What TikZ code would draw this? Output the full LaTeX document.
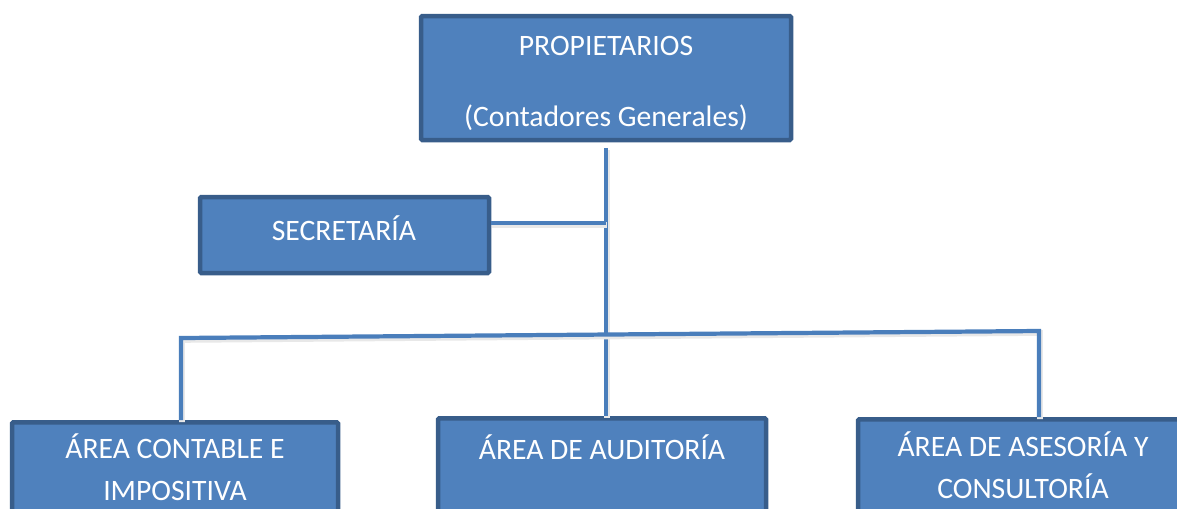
\documentclass[tikz,border=0pt]{standalone}
\usepackage{fontspec}
\setmainfont{Carlito}
\definecolor{cajafondo}{HTML}{4F81BD}
\definecolor{cajaborde}{HTML}{385D8A}
\definecolor{lineaazul}{HTML}{4A7EBB}
\tikzset{
  caja/.style={draw=cajaborde, fill=cajafondo, line width=3.2pt, rounded corners=1pt, inner sep=0pt},
  rotulo/.style={text=white, align=center, inner sep=0pt, font=\fontsize{21.1}{29.9}\selectfont},
  conector/.style={draw=lineaazul, line width=3pt,
    preaction={draw=black!9, line width=4pt, transform canvas={shift={(1,2)}}}}
}

\begin{document}
\begin{tikzpicture}[x=0.025cm,y=-0.025cm]
\useasboundingbox (0,0) rectangle (1177,508);
% cajas
\node[caja, minimum width=370*0.025cm, minimum height=124*0.025cm] (prop) at (606,78) {};
\node[caja, minimum width=289*0.025cm, minimum height=76*0.025cm] (secr) at (344.5,235) {};
\node[caja, anchor=north, minimum width=326*0.025cm, minimum height=130*0.025cm] (contable) at (175,420) {};
\node[caja, anchor=north, minimum width=328*0.025cm, minimum height=130*0.025cm] (auditoria) at (602,416) {};
\node[caja, anchor=north, minimum width=328*0.025cm, minimum height=130*0.025cm] (asesoria) at (1022,417) {};
% textos
\node[rotulo] (prop-t) at (606,83) {PROPIETARIOS\\[20.5pt](Contadores Generales)};
\node[rotulo] (secr-t) at (344,228) {SECRETARÍA};
\node[rotulo] (contable-t) at (175,467) {ÁREA CONTABLE E\\IMPOSITIVA};
\node[rotulo] (auditoria-t) at (602,447) {ÁREA DE AUDITORÍA};
\node[rotulo] (asesoria-t) at (1023,465) {ÁREA DE ASESORÍA Y\\CONSULTORÍA};
% conectores
\coordinate (rama) at (606,223);
\coordinate (barra-izq) at (181,338);
\coordinate (barra-der) at (1039,331);
\draw[conector, shorten <=4pt] (prop.south) -- (prop.south |- auditoria.north);
\draw[conector] (secr.east |- rama) -- (rama);
\draw[conector] (contable.north -| barra-izq) -- (barra-izq) -- (barra-der) -- (asesoria.north -| barra-der);
\end{tikzpicture}
\end{document}
